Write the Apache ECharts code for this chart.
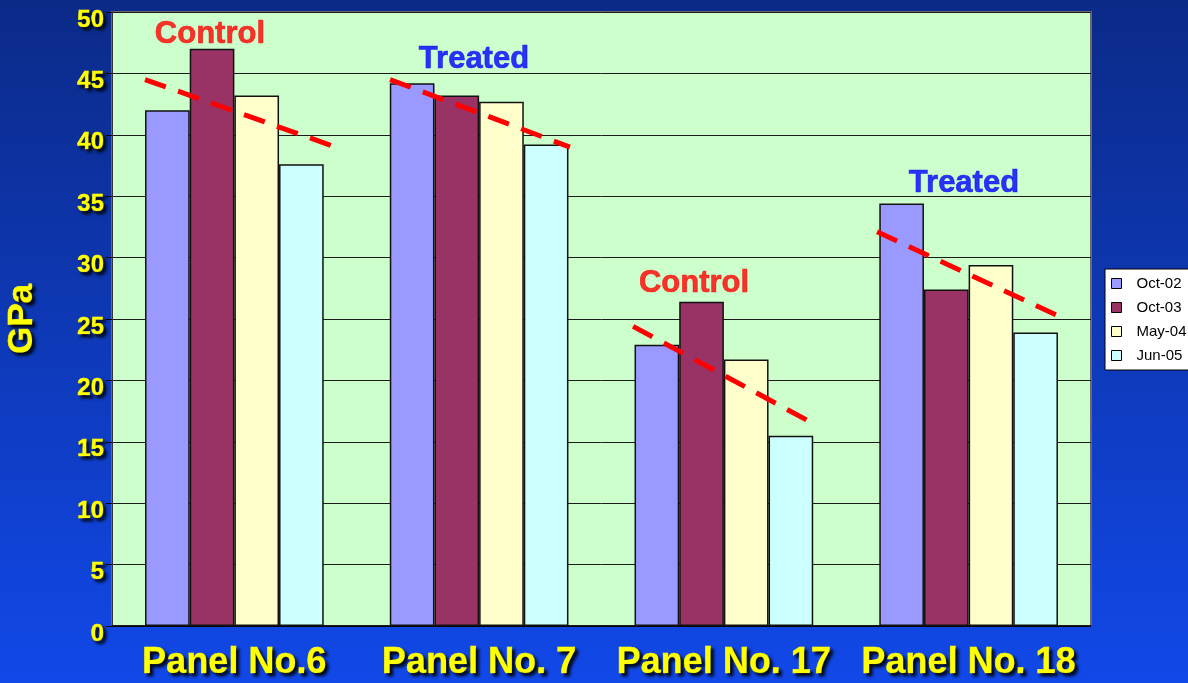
<!DOCTYPE html>
<html>
<head>
<meta charset="utf-8">
<script src="https://cdn.jsdelivr.net/npm/echarts@6/dist/echarts.min.js"></script>
<style>
  html, body { margin: 0; padding: 0; }
  #chart { width: 1188px; height: 683px; }
</style>
</head>
<body>
<div id="chart"></div>
<script>
// data
const categories = ["Panel No.6", "Panel No. 7", "Panel No. 17", "Panel No. 18"];
const seriesNames = ["Oct-02", "Oct-03", "May-04", "Jun-05"];
const oct02 = [42.0, 44.2, 22.9, 34.4];
const oct03 = [47.0, 43.2, 26.4, 27.4];
const may04 = [43.2, 42.7, 21.7, 29.4];
const jun05 = [37.6, 39.2, 15.5, 23.9];
const yTicks = [0, 50, 5];

// trend lines, x in category units (0..4)
const trend6 = [[0.135, 44.5], [0.9, 39.1]];
const trend7 = [[1.136, 44.5], [1.871, 39.0]];
const trend17 = [[2.129, 24.4], [2.864, 16.5]];
const trend18 = [[3.126, 32.1], [3.873, 25.2]];

// group notes
const notes = [
  [0.4, 48.2, "Control", "#FF0000"],
  [1.479, 46.1, "Treated", "#0000FF"],
  [2.378, 27.9, "Control", "#FF0000"],
  [3.481, 36.0, "Treated", "#0000FF"]
];

const colors = ["#9999FF", "#993366", "#FFFFCC", "#CCFFFF"];
const values = [oct02, oct03, may04, jun05];
const FONT = "Arial";

const yellowText = {
  color: "#FFFF00",
  fontFamily: FONT,
  fontWeight: "bold",
  textBorderColor: "#FFFF00",
  textBorderWidth: 0.6,
  textShadowColor: "rgba(0,0,0,0.9)",
  textShadowBlur: 3,
  textShadowOffsetX: 3,
  textShadowOffsetY: 3
};

const chart = echarts.init(document.getElementById("chart"));

const barSeries = seriesNames.map((name, i) => ({
  name: name,
  type: "bar",
  data: values[i],
  barGap: "0%",
  barCategoryGap: "27%",
  itemStyle: { color: colors[i], borderColor: "#111", borderWidth: 1.5 }
}));

const trendSeries = [trend6, trend7, trend17, trend18].map(t => ({
  type: "line",
  xAxisIndex: 1,
  data: t,
  symbol: "none",
  silent: true,
  z: 5,
  lineStyle: { color: "#FF0000", width: 5, type: [22, 13] }
}));

const noteSeries = {
  type: "scatter",
  xAxisIndex: 1,
  symbolSize: 0,
  silent: true,
  z: 6,
  data: notes.map(n => ({
    value: [n[0], n[1]],
    label: {
      show: true,
      position: "inside",
      formatter: n[2],
      color: n[3],
      fontSize: 31,
      fontWeight: "bold",
      fontFamily: FONT,
      textBorderColor: n[3],
      textBorderWidth: 0.6
    }
  }))
};

chart.setOption({
  backgroundColor: {
    type: "linear", x: 0, y: 0, x2: 0, y2: 1,
    colorStops: [
      { offset: 0, color: "#0B2A88" },
      { offset: 1, color: "#1148E8" }
    ]
  },
  animation: false,
  grid: {
    left: 112, right: 97, top: 12, bottom: 57,
    outerBoundsMode: "none",
    show: true,
    backgroundColor: "#CCFFCC",
    borderColor: "#6a6a6a",
    borderWidth: 2
  },
  legend: {
    data: seriesNames,
    orient: "vertical",
    left: 1105,
    top: 269,
    icon: "rect",
    backgroundColor: "#FFFFFF",
    borderColor: "#000",
    borderWidth: 1,
    borderRadius: 0,
    padding: [7, 10, 7, 6],
    itemGap: 9,
    itemWidth: 10,
    itemHeight: 10,
    itemStyle: { borderColor: "#000", borderWidth: 1 },
    textStyle: { color: "#000", fontSize: 15, fontFamily: FONT, padding: [0, 0, 0, 10] }
  },
  xAxis: [
    {
      type: "category",
      data: categories,
      axisLine: { lineStyle: { color: "#000", width: 1.5 } },
      axisTick: { length: 5, lineStyle: { color: "#222" } },
      axisLabel: Object.assign({ fontSize: 36, margin: 19, interval: 0 }, yellowText)
    },
    { type: "value", min: 0, max: 4, show: false }
  ],
  yAxis: {
    type: "value",
    min: yTicks[0],
    max: yTicks[1],
    interval: yTicks[2],
    name: "GPa",
    nameLocation: "middle",
    nameGap: 72,
    nameMoveOverlap: false,
    nameRotate: 90,
    nameTextStyle: Object.assign({ fontSize: 35 }, yellowText),
    axisLine: { show: true, lineStyle: { color: "#333", width: 1 } },
    axisTick: { show: true, length: 6, lineStyle: { color: "#000" } },
    splitLine: { lineStyle: { color: "#1a1a1a", width: 1 } },
    axisLabel: Object.assign({ fontSize: 24, margin: 8, verticalAlign: "top", lineHeight: 16 }, yellowText)
  },
  series: barSeries.concat(trendSeries, [noteSeries])
});
</script>
</body>
</html>
